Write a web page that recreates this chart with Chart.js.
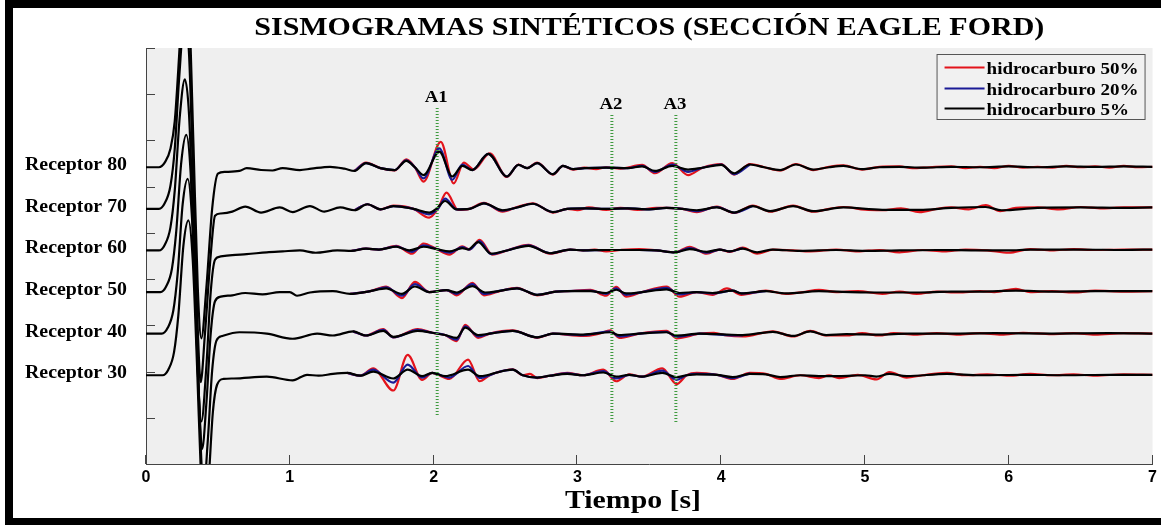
<!DOCTYPE html>
<html lang="es">
<head>
<meta charset="utf-8">
<title>Sismogramas sintéticos (Sección Eagle Ford)</title>
<script src="https://cdn.jsdelivr.net/npm/chart.js@4.4.1/dist/chart.umd.min.js"></script>
<style>
    html, body { margin: 0; padding: 0; background: #fff; overflow: hidden; }
    canvas { display: block; width: 1161px; height: 525px; }
</style>
</head>
<body>
<canvas id="sismoChart" width="1161" height="525"></canvas>
<script>
/**
 * Sismogramas sintéticos - Sección Eagle Ford
 * Trazas por receptor para tres contenidos de hidrocarburo
 */

// Categories and labels
const chartTitle = 'SISMOGRAMAS SINTÉTICOS (SECCIÓN EAGLE FORD)';
const axisTitle = 'Tiempo [s]';
const receptorNames = ['Receptor 80', 'Receptor 70', 'Receptor 60', 'Receptor 50', 'Receptor 40', 'Receptor 30'];
const receptorOffsets = [6.42, 5.52, 4.62, 3.72, 2.82, 1.92];
const seriesNames = ['hidrocarburo 50%', 'hidrocarburo 20%', 'hidrocarburo 5%'];
const timeTicks = [0, 1, 2, 3, 4, 5, 6, 7];
const ampTicks = [1, 2, 3, 4, 5, 6, 7, 8, 9];

// Event markers (time, vertical extent)
const markerNames = ['A1', 'A2', 'A3'];
const markerTimes = [2.025, 3.24, 3.685];
const markerTops = [7.7, 7.55, 7.55];
const markerBottoms = [1.06, 0.91, 0.91];

// Traces: [tiempo s, amplitud]
const black80 = [[0,0],[0.09,0],[0.13,0.1],[0.17,0.4],[0.2,1.0],[0.23,2.4],[0.27,4.6],[0.3,3.5],[0.33,0.5],[0.36,-2.6],[0.385,-3.7],[0.42,-2.6],[0.46,-0.9],[0.5,-0.14],[0.55,-0.1],[0.65,-0.08],[0.7,-0.02],[0.8,-0.06],[0.88,-0.07],[0.95,-0.02],[1.07,-0.06],[1.15,-0.03],[1.28,0.01],[1.38,-0.03],[1.45,-0.08],[1.53,0.09],[1.63,-0.02],[1.73,-0.06],[1.81,0.14],[1.87,0.0],[1.93,-0.17],[2.04,0.34],[2.13,-0.2],[2.2,0.03],[2.27,-0.06],[2.38,0.29],[2.51,-0.2],[2.59,0.05],[2.65,-0.02],[2.72,0.09],[2.83,-0.15],[2.9,0.03],[2.97,-0.04],[3.05,-0.02],[3.2,-0.01],[3.35,-0.02],[3.45,0.02],[3.54,-0.08],[3.66,0.03],[3.77,-0.05],[3.87,-0.01],[4.0,0.05],[4.09,-0.13],[4.2,0.06],[4.3,0.0],[4.41,-0.06],[4.52,0.06],[4.64,-0.05],[4.75,0.0],[4.85,0.03],[4.98,-0.04],[5.1,0.0],[5.24,0.01],[5.4,-0.01],[5.6,0.01],[5.8,0.0],[6.0,0.02],[6.2,0.0],[6.4,0.02],[6.6,0.01],[6.8,0.02],[7.0,0.01]];
const blue80 = [[1.45,-0.08],[1.53,0.09],[1.63,-0.02],[1.73,-0.06],[1.81,0.15],[1.87,0.0],[1.93,-0.24],[2.04,0.41],[2.13,-0.27],[2.2,0.06],[2.27,-0.06],[2.38,0.29],[2.51,-0.2],[2.59,0.05],[2.65,-0.02],[2.72,0.09],[2.83,-0.15],[2.9,0.03],[2.97,-0.04],[3.05,-0.02],[3.2,-0.01],[3.35,-0.02],[3.45,0.03],[3.54,-0.1],[3.66,0.06],[3.77,-0.1],[3.87,-0.01],[4.0,0.06],[4.09,-0.15],[4.2,0.06]];
const red80 = [[1.45,-0.08],[1.53,0.1],[1.63,-0.02],[1.73,-0.07],[1.81,0.17],[1.87,0.0],[1.93,-0.31],[2.05,0.55],[2.14,-0.35],[2.21,0.1],[2.28,-0.05],[2.39,0.3],[2.51,-0.21],[2.59,0.06],[2.65,-0.02],[2.72,0.1],[2.83,-0.16],[2.9,0.03],[2.97,-0.05],[3.05,-0.01],[3.13,-0.04],[3.2,0.0],[3.3,-0.03],[3.45,0.05],[3.54,-0.13],[3.66,0.09],[3.77,-0.17],[3.87,-0.01],[4.0,0.07],[4.09,-0.16],[4.2,0.07],[4.3,0.0],[4.41,-0.07],[4.52,0.07],[4.64,-0.06],[4.75,0.01],[4.85,0.04],[4.98,-0.05],[5.1,0.01],[5.24,0.02],[5.33,-0.02],[5.45,0.0],[5.6,0.02],[5.7,-0.02],[5.8,0.01],[5.9,-0.02],[6.0,0.03],[6.1,-0.01],[6.2,0.01],[6.3,-0.01],[6.4,0.03],[6.5,0.0],[6.6,0.02],[6.7,-0.01],[6.8,0.03],[6.9,0.0],[7.0,0.01]];

const black70 = [[0,0],[0.09,0],[0.13,0.12],[0.17,0.5],[0.2,1.3],[0.23,2.8],[0.27,4.2],[0.3,3.3],[0.33,0.4],[0.36,-2.6],[0.38,-3.75],[0.41,-2.7],[0.45,-1.0],[0.48,-0.15],[0.52,-0.1],[0.6,-0.06],[0.69,0.05],[0.8,-0.08],[0.93,0.03],[1.02,-0.07],[1.14,0.06],[1.24,-0.06],[1.35,0.03],[1.45,-0.03],[1.54,0.1],[1.63,-0.01],[1.72,0.06],[1.86,0.0],[1.97,-0.08],[2.02,0.0],[2.08,0.17],[2.16,-0.01],[2.25,0.0],[2.35,0.12],[2.48,-0.03],[2.58,0.03],[2.69,0.11],[2.83,-0.07],[2.93,0.0],[3.05,0.01],[3.2,0.0],[3.35,0.01],[3.5,-0.01],[3.62,0.02],[3.73,0.0],[3.83,-0.03],[3.97,0.03],[4.09,-0.08],[4.22,0.06],[4.34,-0.05],[4.5,0.06],[4.64,-0.05],[4.85,0.03],[5.12,-0.02],[5.38,-0.02],[5.6,0.02],[5.84,0.04],[5.95,-0.03],[6.2,0.02],[6.5,0.03],[6.8,0.02],[7.0,0.03]];
const blue70 = [[1.45,-0.03],[1.54,0.1],[1.63,-0.01],[1.72,0.06],[1.86,0.0],[1.97,-0.12],[2.03,0.0],[2.08,0.22],[2.16,-0.01],[2.25,0.0],[2.35,0.12],[2.48,-0.04],[2.58,0.03],[2.69,0.11],[2.83,-0.07],[2.93,0.0],[3.05,0.01],[3.2,0.0],[3.35,0.01],[3.5,-0.01],[3.62,0.02],[3.73,0.0],[3.83,-0.05],[3.97,0.04],[4.09,-0.08],[4.22,0.06]];
const red70 = [[1.45,-0.03],[1.54,0.1],[1.63,-0.01],[1.72,0.07],[1.86,0.0],[1.97,-0.19],[2.03,0.0],[2.09,0.35],[2.17,-0.02],[2.25,0.0],[2.35,0.13],[2.48,-0.06],[2.58,0.04],[2.69,0.12],[2.83,-0.08],[2.93,0.0],[3.0,-0.03],[3.08,0.03],[3.2,-0.02],[3.3,0.02],[3.42,-0.02],[3.55,0.02],[3.62,0.02],[3.73,0.0],[3.83,-0.07],[3.97,0.05],[4.09,-0.09],[4.22,0.07],[4.34,-0.06],[4.5,0.07],[4.64,-0.06],[4.75,0.0],[4.85,0.04],[5.0,-0.02],[5.12,-0.03],[5.25,0.01],[5.38,-0.07],[5.5,0.0],[5.6,0.03],[5.72,-0.01],[5.84,0.08],[5.94,-0.05],[6.05,0.02],[6.2,0.03],[6.35,-0.01],[6.5,0.04],[6.65,0.01],[6.8,0.03],[7.0,0.03]];

const black60 = [[0,0],[0.09,0],[0.13,0.12],[0.17,0.5],[0.2,1.3],[0.235,2.9],[0.27,3.7],[0.3,2.9],[0.33,0.3],[0.36,-2.6],[0.385,-3.7],[0.42,-2.5],[0.45,-0.9],[0.48,-0.2],[0.52,-0.13],[0.6,-0.1],[0.7,-0.08],[0.84,-0.04],[0.95,-0.02],[1.07,0.0],[1.18,-0.05],[1.33,0.0],[1.43,-0.01],[1.53,0.04],[1.62,0.02],[1.74,0.08],[1.83,0.0],[1.93,0.08],[2.02,0.03],[2.11,-0.02],[2.2,0.05],[2.24,0.02],[2.31,0.18],[2.4,-0.07],[2.51,0.0],[2.66,0.1],[2.81,-0.06],[2.95,0.02],[3.04,0.0],[3.2,0.01],[3.43,0.01],[3.55,0.0],[3.68,-0.04],[3.78,0.03],[3.9,-0.03],[3.99,0.02],[4.06,-0.02],[4.15,0.04],[4.25,-0.04],[4.36,0.02],[4.55,-0.01],[4.8,0.01],[5.0,-0.01],[5.24,0.0],[5.5,0.01],[5.8,0.0],[6.0,0.0],[6.15,0.02],[6.5,0.02],[6.8,0.01],[7.0,0.02]];
const blue60 = [[1.43,-0.01],[1.53,0.04],[1.62,0.02],[1.74,0.09],[1.85,-0.03],[1.93,0.11],[2.02,0.03],[2.11,-0.05],[2.2,0.07],[2.25,0.02],[2.32,0.2],[2.4,-0.08],[2.51,0.0],[2.66,0.11],[2.81,-0.06],[2.95,0.02],[3.04,0.0],[3.2,0.01],[3.43,0.01],[3.55,0.0],[3.68,-0.04],[3.78,0.05],[3.9,-0.05],[3.99,0.02],[4.06,-0.02],[4.15,0.05]];
const red60 = [[1.43,-0.01],[1.53,0.04],[1.62,0.02],[1.74,0.1],[1.85,-0.07],[1.93,0.15],[2.02,0.03],[2.11,-0.09],[2.2,0.09],[2.25,0.02],[2.32,0.23],[2.41,-0.09],[2.51,0.0],[2.66,0.12],[2.81,-0.07],[2.95,0.02],[3.04,0.0],[3.12,0.02],[3.2,-0.02],[3.3,0.01],[3.43,0.03],[3.55,0.0],[3.68,-0.04],[3.78,0.08],[3.9,-0.07],[3.99,0.02],[4.06,-0.03],[4.15,0.06],[4.25,-0.07],[4.36,0.02],[4.5,0.0],[4.62,-0.02],[4.8,0.02],[4.95,-0.02],[5.1,0.01],[5.24,-0.04],[5.4,0.01],[5.55,-0.02],[5.7,0.02],[5.85,0.0],[6.0,-0.05],[6.15,0.03],[6.3,0.0],[6.45,0.03],[6.6,0.01],[6.8,0.02],[7.0,0.02]];

const black50 = [[0,0],[0.1,0],[0.14,0.12],[0.18,0.5],[0.21,1.3],[0.245,2.8],[0.28,3.4],[0.31,2.6],[0.34,0.2],[0.37,-2.4],[0.39,-3.4],[0.42,-2.4],[0.45,-0.9],[0.48,-0.2],[0.52,-0.1],[0.6,-0.07],[0.69,-0.02],[0.81,-0.05],[0.93,0.0],[1.0,0.0],[1.05,-0.08],[1.14,-0.01],[1.3,0.02],[1.42,-0.04],[1.56,0.02],[1.67,0.08],[1.78,-0.04],[1.87,0.12],[1.97,0.0],[2.09,0.04],[2.16,-0.01],[2.27,0.13],[2.36,-0.01],[2.45,0.02],[2.58,0.08],[2.72,-0.06],[2.85,0.01],[2.93,0.02],[3.09,0.02],[3.2,-0.02],[3.27,0.05],[3.34,-0.03],[3.45,0.0],[3.62,0.06],[3.71,-0.02],[3.83,0.0],[3.94,-0.02],[4.08,0.03],[4.14,-0.03],[4.31,0.02],[4.45,-0.03],[4.68,0.02],[4.9,0.0],[5.12,-0.01],[5.36,-0.01],[5.6,0.01],[5.8,0.01],[6.05,0.03],[6.3,0.01],[6.6,0.02],[7.0,0.02]];
const blue50 = [[1.42,-0.04],[1.56,0.02],[1.67,0.1],[1.78,-0.08],[1.87,0.17],[1.97,0.0],[2.09,0.04],[2.16,-0.04],[2.27,0.17],[2.35,-0.04],[2.45,0.02],[2.58,0.08],[2.72,-0.06],[2.85,0.01],[2.93,0.02],[3.09,0.03],[3.2,-0.04],[3.27,0.08],[3.34,-0.06],[3.45,0.0],[3.62,0.09],[3.71,-0.05],[3.83,0.0],[3.94,-0.03],[4.08,0.03],[4.14,-0.03],[4.31,0.02]];
const red50 = [[1.42,-0.04],[1.56,0.02],[1.67,0.12],[1.78,-0.13],[1.87,0.22],[1.97,0.0],[2.09,0.04],[2.16,-0.07],[2.27,0.2],[2.35,-0.07],[2.45,0.01],[2.58,0.09],[2.72,-0.07],[2.85,0.01],[2.93,0.02],[3.09,0.05],[3.2,-0.08],[3.27,0.11],[3.34,-0.1],[3.45,0.0],[3.62,0.12],[3.71,-0.1],[3.83,0.0],[3.94,-0.06],[4.04,0.08],[4.14,-0.06],[4.31,0.03],[4.45,-0.04],[4.57,0.0],[4.68,0.05],[4.8,0.0],[4.95,0.02],[5.12,-0.04],[5.24,0.01],[5.36,-0.04],[5.5,0.01],[5.65,-0.01],[5.8,0.02],[5.9,0.0],[6.05,0.07],[6.15,0.0],[6.3,0.02],[6.45,-0.01],[6.6,0.03],[6.8,0.01],[7.0,0.02]];

const black40 = [[0,0],[0.11,0],[0.15,0.12],[0.19,0.5],[0.22,1.3],[0.255,2.8],[0.29,3.35],[0.32,2.5],[0.35,0.2],[0.38,-2.4],[0.4,-3.4],[0.43,-2.3],[0.46,-0.8],[0.49,-0.15],[0.53,-0.05],[0.65,0.03],[0.84,0.0],[1.02,-0.11],[1.19,0.0],[1.3,-0.04],[1.44,0.05],[1.53,-0.04],[1.65,0.06],[1.72,-0.07],[1.89,0.06],[1.99,0.02],[2.08,-0.03],[2.16,-0.09],[2.22,0.13],[2.31,-0.03],[2.39,0.0],[2.55,0.06],[2.72,-0.08],[2.83,0.0],[3.04,-0.02],[3.23,0.03],[3.29,-0.03],[3.43,0.0],[3.62,0.03],[3.69,-0.04],[3.85,0.0],[4.04,-0.02],[4.15,-0.03],[4.36,0.04],[4.5,-0.05],[4.62,0.05],[4.73,-0.03],[4.87,-0.01],[5.1,-0.02],[5.3,0.0],[5.6,0.0],[5.9,0.01],[6.3,0.0],[6.7,0.01],[7.0,0.0]];
const blue40 = [[1.44,0.05],[1.53,-0.04],[1.65,0.08],[1.72,-0.08],[1.89,0.08],[1.99,0.02],[2.08,-0.03],[2.16,-0.13],[2.22,0.16],[2.31,-0.06],[2.39,0.0],[2.55,0.06],[2.72,-0.08],[2.83,0.0],[3.04,-0.03],[3.23,0.05],[3.29,-0.06],[3.43,0.0],[3.62,0.04],[3.69,-0.07],[3.85,0.0],[4.04,-0.03],[4.15,-0.04]];
const red40 = [[1.44,0.05],[1.53,-0.04],[1.65,0.1],[1.72,-0.08],[1.89,0.1],[1.99,0.02],[2.08,-0.03],[2.16,-0.16],[2.22,0.19],[2.31,-0.09],[2.39,0.0],[2.55,0.07],[2.72,-0.09],[2.83,0.0],[3.04,-0.05],[3.15,0.0],[3.23,0.07],[3.29,-0.09],[3.43,0.0],[3.62,0.06],[3.69,-0.1],[3.85,0.0],[3.95,0.02],[4.04,-0.04],[4.15,-0.06],[4.36,0.05],[4.5,-0.06],[4.62,0.06],[4.73,-0.04],[4.87,-0.04],[4.98,0.01],[5.1,-0.04],[5.2,0.01],[5.35,-0.02],[5.5,0.01],[5.65,-0.02],[5.8,0.01],[5.95,-0.02],[6.1,0.02],[6.3,-0.01],[6.45,0.01],[6.6,-0.02],[6.8,0.01],[7.0,0.0]];

const black30 = [[0,0],[0.115,0],[0.155,0.12],[0.195,0.5],[0.225,1.3],[0.26,2.8],[0.295,3.35],[0.325,2.5],[0.355,0.2],[0.385,-2.4],[0.405,-3.4],[0.435,-2.3],[0.465,-0.8],[0.495,-0.2],[0.54,-0.08],[0.61,-0.07],[0.84,-0.03],[1.02,-0.11],[1.12,0.01],[1.2,-0.01],[1.3,0.03],[1.4,0.05],[1.49,-0.01],[1.58,0.08],[1.72,-0.07],[1.82,0.12],[1.92,-0.02],[1.99,0.05],[2.08,-0.02],[2.24,0.12],[2.32,-0.02],[2.37,0.0],[2.44,0.06],[2.55,0.12],[2.62,0.0],[2.72,-0.05],[2.81,-0.01],[2.93,0.03],[3.04,0.0],[3.18,0.06],[3.27,-0.03],[3.36,0.01],[3.45,-0.03],[3.59,0.05],[3.69,-0.04],[3.76,0.0],[3.83,0.02],[3.97,0.01],[4.08,-0.04],[4.2,0.03],[4.31,0.02],[4.41,-0.04],[4.55,0.0],[4.68,-0.02],[4.82,-0.02],[5.0,0.0],[5.08,-0.03],[5.17,0.03],[5.29,-0.02],[5.57,0.03],[5.8,0.0],[6.1,0.01],[6.4,0.0],[6.7,0.01],[7.0,0.01]];
const blue30 = [[1.4,0.05],[1.49,-0.01],[1.58,0.12],[1.72,-0.16],[1.82,0.23],[1.92,-0.05],[1.99,0.05],[2.11,-0.05],[2.24,0.2],[2.32,-0.06],[2.39,0.0],[2.44,0.06],[2.55,0.12],[2.62,0.0],[2.72,-0.05],[2.81,-0.01],[2.93,0.04],[3.04,0.0],[3.18,0.09],[3.27,-0.07],[3.36,0.01],[3.45,-0.03],[3.59,0.1],[3.69,-0.1],[3.76,0.0],[3.83,0.03],[3.97,0.01],[4.08,-0.06],[4.2,0.04]];
const red30 = [[1.4,0.05],[1.49,-0.01],[1.58,0.15],[1.72,-0.33],[1.82,0.44],[1.92,-0.1],[1.99,0.05],[2.11,-0.08],[2.24,0.34],[2.32,-0.13],[2.39,0.0],[2.44,0.06],[2.55,0.13],[2.62,0.0],[2.67,0.03],[2.72,-0.06],[2.81,-0.01],[2.93,0.05],[3.04,0.0],[3.18,0.12],[3.27,-0.13],[3.36,0.02],[3.45,-0.03],[3.59,0.15],[3.69,-0.19],[3.76,0.0],[3.83,0.05],[3.97,0.01],[4.08,-0.08],[4.2,0.05],[4.31,0.03],[4.41,-0.08],[4.55,0.0],[4.68,-0.06],[4.75,0.0],[4.82,-0.06],[4.95,0.01],[5.08,-0.09],[5.17,0.07],[5.29,-0.05],[5.4,0.0],[5.57,0.05],[5.7,0.0],[5.85,0.02],[6.0,-0.01],[6.15,0.03],[6.3,0.0],[6.45,0.02],[6.6,-0.01],[6.8,0.02],[7.0,0.01]];

// One list per series, in receptor order
const redTraces = [red80, red70, red60, red50, red40, red30];
const blueTraces = [blue80, blue70, blue60, blue50, blue40, blue30];
const blackTraces = [black80, black70, black60, black50, black40, black30];

// Styles
const seriesColors = ['#e3131b', '#1b1b96', '#000000'];
const markerColor = '#3f9a3f';
const plotBackground = '#efefef';
const axisColor = '#444444';

document.addEventListener('DOMContentLoaded', function() {
    initializeSeismogramChart();
});

function initializeSeismogramChart() {
    const ctx = document.getElementById('sismoChart');
    new Chart(ctx, {
        type: 'line',
        data: { datasets: buildDatasets() },
        options: {
            responsive: false,
            animation: false,
            events: [],
            layout: { padding: { left: 146, right: 8, top: 48, bottom: 0 } },
            scales: {
                x: {
                    type: 'linear',
                    min: 0,
                    max: 7,
                    afterFit: scale => { scale.height = 61; },
                    afterBuildTicks: scale => { scale.ticks = timeTicks.map(v => ({ value: v })); },
                    ticks: {
                        autoSkip: false,
                        maxRotation: 0,
                        padding: 4,
                        color: '#000',
                        font: { family: '"Liberation Sans", Arial, sans-serif', size: 16, weight: 'bold' }
                    },
                    grid: { display: false, drawTicks: false },
                    border: { display: true, color: axisColor, width: 1 }
                },
                y: {
                    type: 'linear',
                    min: 0,
                    max: 9,
                    afterFit: scale => { scale.width = 0; },
                    ticks: { display: false },
                    grid: { display: false, drawTicks: false },
                    border: { display: true, color: axisColor, width: 1 }
                }
            },
            plugins: {
                legend: { display: false },
                tooltip: { enabled: false },
                title: { display: false }
            }
        },
        plugins: [seismogramDecorations]
    });
}

function buildDatasets() {
    const datasets = [];

    // Event markers on top
    markerTimes.forEach((t, i) => {
        datasets.push({
            data: [{ x: t, y: markerBottoms[i] }, { x: t, y: markerTops[i] }],
            borderColor: markerColor,
            borderWidth: 3,
            borderDash: [1, 2],
            pointRadius: 0,
            order: -1
        });
    });

    // 5% (black) above 20% (blue) above 50% (red)
    const groups = [redTraces, blueTraces, blackTraces];
    groups.forEach((traces, s) => {
        traces.forEach((trace, r) => {
            datasets.push(createTraceDataset(trace, receptorOffsets[r], seriesColors[s], 2 - s));
        });
    });
    return datasets;
}

function createTraceDataset(trace, offset, color, order) {
    return {
        data: trace.map(p => ({ x: p[0], y: offset + p[1] })),
        borderColor: color,
        borderWidth: 2.2,
        pointRadius: 0,
        fill: false,
        cubicInterpolationMode: 'monotone',
        order: order
    };
}

// Draw text squeezed/stretched to a given width
function drawText(ctx, text, x, y, font, width, align) {
    ctx.font = font;
    const measured = ctx.measureText(text).width;
    const sx = width ? width / measured : 1;
    ctx.save();
    ctx.translate(x, y);
    ctx.scale(sx, 1);
    ctx.textAlign = align || 'left';
    ctx.textBaseline = 'alphabetic';
    ctx.fillStyle = '#000';
    ctx.fillText(text, 0, 0);
    ctx.restore();
}

const seismogramDecorations = {
    id: 'seismogramDecorations',
    beforeDraw(chart) {
        const { ctx, chartArea: a, width, height } = chart;
        ctx.save();
        ctx.fillStyle = '#ffffff';
        ctx.fillRect(0, 0, width, height);
        ctx.fillStyle = plotBackground;
        ctx.fillRect(a.left, a.top, a.right - a.left, a.bottom - a.top);
        // black picture frame (top, left, bottom)
        ctx.fillStyle = '#000';
        ctx.fillRect(5, 0, width - 5, 8);
        ctx.fillRect(5, 0, 8, height);
        ctx.fillRect(5, height - 7, width - 5, 7);
        ctx.restore();
    },
    beforeDatasetsDraw(chart) {
        const { ctx, chartArea: a, scales } = chart;
        ctx.save();
        ctx.strokeStyle = axisColor;
        ctx.lineWidth = 1;
        ctx.beginPath();
        ampTicks.forEach(v => {
            const py = Math.round(scales.y.getPixelForValue(v)) + 0.5;
            ctx.moveTo(a.left, py);
            ctx.lineTo(a.left + 9, py);
        });
        timeTicks.forEach(t => {
            const px = Math.round(scales.x.getPixelForValue(t)) - 0.5;
            ctx.moveTo(px, a.bottom);
            ctx.lineTo(px, a.bottom - 9);
        });
        ctx.stroke();
        ctx.restore();
    },
    afterDraw(chart) {
        const { ctx, chartArea: a, scales } = chart;
        const serif = '"Liberation Serif", "Times New Roman", serif';

        // Title and axis title
        drawText(ctx, chartTitle, (a.left + a.right) / 2, 35, 'bold 26px ' + serif, 790, 'center');
        drawText(ctx, axisTitle, 633, 508, 'bold 26px ' + serif, 136, 'center');

        // Receptor names at each trace level
        receptorNames.forEach((name, i) => {
            const py = scales.y.getPixelForValue(receptorOffsets[i]);
            drawText(ctx, name, 25, py + 3, 'bold 18px ' + serif, 102, 'left');
        });

        // Marker names
        markerNames.forEach((name, i) => {
            const px = scales.x.getPixelForValue(markerTimes[i]);
            const py = scales.y.getPixelForValue(markerTops[i]);
            drawText(ctx, name, px - 1, py - 6, 'bold 16px ' + serif, 23, 'center');
        });

        drawLegend(ctx, a, serif);
    }
};

function drawLegend(ctx, a, serif) {
    const box = { x: a.right - 216, y: a.top + 6, w: 209, h: 66 };
    ctx.save();
    ctx.fillStyle = '#f1f1f1';
    ctx.fillRect(box.x, box.y, box.w, box.h);
    ctx.strokeStyle = '#555';
    ctx.lineWidth = 1;
    ctx.strokeRect(box.x + 0.5, box.y + 0.5, box.w - 1, box.h - 1);

    const font = 'bold 17px ' + serif;
    ctx.font = font;
    const stretch = 152 / ctx.measureText(seriesNames[0]).width;
    const rows = [12.7, 33.7, 54.3];
    seriesNames.forEach((name, i) => {
        const ly = Math.round(box.y + rows[i]) + 0.5;
        ctx.strokeStyle = seriesColors[i];
        ctx.lineWidth = 2;
        ctx.beginPath();
        ctx.moveTo(box.x + 8, ly);
        ctx.lineTo(box.x + 48, ly);
        ctx.stroke();
        ctx.font = font;
        const w = ctx.measureText(name).width * stretch;
        drawText(ctx, name, box.x + 50, ly + 6, font, w, 'left');
    });
    ctx.restore();
}
</script>
</body>
</html>
